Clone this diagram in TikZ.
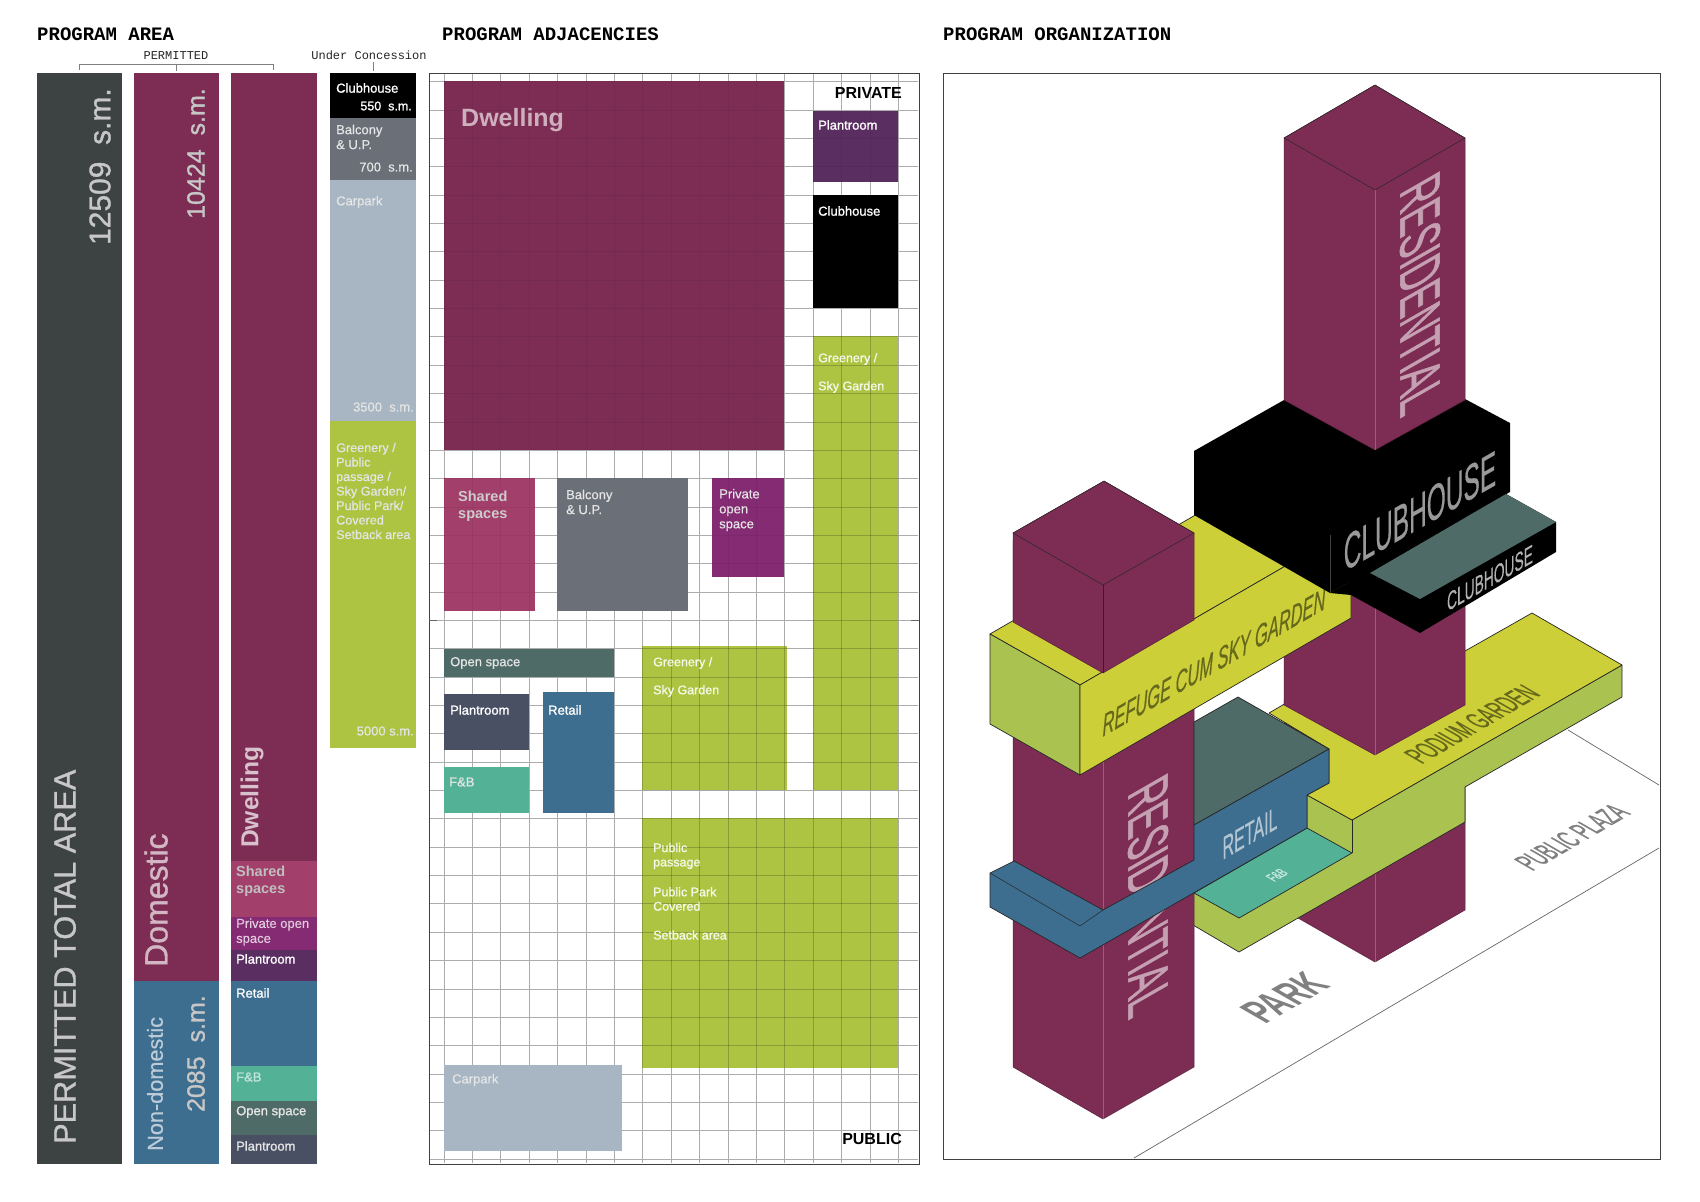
\documentclass[tikz,border=0pt]{standalone}
\usepackage{fontspec}
\setmainfont{Liberation Sans}
\newfontfamily\typefont{Liberation Mono}
\newfontfamily\heavyfont[FakeBold=0.5]{Liberation Sans}
\newfontfamily\strongfont[FakeBold=1.1]{Liberation Sans}
\newfontfamily\strongslant[FakeBold=0.6]{Liberation Sans Italic}
\usepackage{xcolor}
\definecolor{areagray}{RGB}{61, 66, 67}
\definecolor{dwellred}{RGB}{125, 45, 84}
\definecolor{sharedrose}{RGB}{163, 63, 107}
\definecolor{openpurple}{RGB}{133, 43, 115}
\definecolor{plantpurple}{RGB}{91, 46, 98}
\definecolor{retailblue}{RGB}{62, 110, 143}
\definecolor{fnbgreen}{RGB}{83, 178, 150}
\definecolor{opengreen}{RGB}{79, 107, 103}
\definecolor{plantslate}{RGB}{74, 80, 100}
\definecolor{balconygray}{RGB}{106, 111, 120}
\definecolor{carparkblue}{RGB}{168, 182, 195}
\definecolor{greenery}{RGB}{173, 196, 67}
\definecolor{gardenyellow}{RGB}{204, 207, 55}
\definecolor{sidegreen}{RGB}{170, 194, 80}
\definecolor{gridgray}{RGB}{172, 172, 172}
\linespread{1.15}
\newcommand{\pxfont}[1]{\fontsize{#1}{#1}\selectfont}
\newcommand{\residtext}{RESIDENTIAL}
\newcommand{\gridlines}[1]{%
  \foreach \gx in {0,...,16}
    \draw[#1] ({444+\gx*28.4},73) -- ({444+\gx*28.4},1163);
  \foreach \gy in {0,...,38}
    \draw[#1] (430,{81.7+\gy*28.35}) -- (918,{81.7+\gy*28.35});
}

\begin{document}
\begin{tikzpicture}[
    x=1pt, y=-1pt,
    heading/.style={anchor=base west, inner sep=0pt, font=\typefont\bfseries\pxfont{19}, text=black},
    bracketlabel/.style={anchor=base, inner sep=0pt, font=\typefont\pxfont{12}, text=black!85},
    bracketline/.style={draw=gray, line width=1pt},
    barlabel/.style={rotate=90, inner sep=0pt, text=white!78!black},
    tag/.style={anchor=west, inner sep=0pt, align=left, font=\heavyfont\pxfont{13}, text=white!90!black},
    boldtag/.style={tag, font=\strongfont\pxfont{13}, text=white},
    greentag/.style={tag, font=\strongfont\pxfont{12.5}, text=white!88!greenery},
    arealabel/.style={anchor=east, inner sep=0pt, font=\heavyfont\pxfont{13}, text=white!90!black},
    gridline/.style={draw=gridgray, line width=0.8pt},
    gridover/.style={draw=black, draw opacity=0.2, line width=0.8pt},
    gridfaint/.style={draw=black, draw opacity=0.06, line width=0.8pt},
    frameline/.style={draw=black!75, line width=1pt},
    siteline/.style={draw=black!60, line width=0.7pt},
    mass/.style={fill=dwellred, draw=dwellred!70!black, line width=0.5pt, line join=round},
    slab/.style={draw=black!85, line width=0.7pt, line join=round},
    ridge/.style={draw=black!55, line width=0.6pt},
    facetext/.style={transform shape, inner sep=0pt, text=black!50}
  ]
  \useasboundingbox (0,0) rectangle (1700,1202);
  \fill[white] (0,0) rectangle (1700,1202);

  % titles
  \node[heading] (areatitle) at (37,40) {PROGRAM AREA};
  \node[heading] (adjtitle) at (442,40) {PROGRAM ADJACENCIES};
  \node[heading] (orgtitle) at (943,40) {PROGRAM ORGANIZATION};
  \node[bracketlabel] (permitted) at (176,59) {PERMITTED};
  \node[bracketlabel] (concession) at (369,59) {Under Concession};
  \draw[bracketline] (79,70) -- (79,64) -- (273,64) -- (273,70);
  \draw[bracketline] (176,64) -- (176,71);
  \draw[bracketline] (373,62) -- (373,71);

  % area bars
  \fill[areagray] (37,73) rectangle (122,1164);
  \fill[dwellred] (134,73) rectangle (219,981);
  \fill[retailblue] (134,981) rectangle (219,1164);
  \fill[dwellred] (231,73) rectangle (317,861);
  \fill[sharedrose] (231,861) rectangle (317,917);
  \fill[openpurple] (231,917) rectangle (317,950);
  \fill[plantpurple] (231,950) rectangle (317,981);
  \fill[retailblue] (231,981) rectangle (317,1066);
  \fill[fnbgreen] (231,1066) rectangle (317,1101);
  \fill[opengreen] (231,1101) rectangle (317,1135);
  \fill[plantslate] (231,1135) rectangle (317,1164);
  \fill[black] (330,73) rectangle (416,118);
  \fill[balconygray] (330,118) rectangle (416,180);
  \fill[carparkblue] (330,180) rectangle (416,421);
  \fill[greenery] (330,421) rectangle (416,748);

  \node[barlabel, anchor=east, font=\strongfont\pxfont{30}] (totalsm) at (100,88) {12509\ \ s.m.};
  \node[barlabel, anchor=west, font=\strongfont\pxfont{30.7}] (totalarea) at (65,1144) {PERMITTED TOTAL AREA};
  \node[barlabel, anchor=east, font=\strongfont\pxfont{25}] (domsm) at (196,88) {10424\ \ s.m.};
  \node[barlabel, anchor=west, font=\strongfont\pxfont{32}, text=white!65!dwellred] (domestic) at (156,967) {Domestic};
  \node[barlabel, anchor=west, font=\heavyfont\pxfont{21.7}, text=white!65!retailblue] (nondom) at (155,1151) {Non-domestic};
  \node[barlabel, anchor=east, font=\strongfont\pxfont{25}] (nondomsm) at (196,995) {2085\ \ s.m.};
  \node[barlabel, anchor=west, font=\bfseries\pxfont{24.6}, text=white!70!dwellred] (dwellbar) at (252,848) {Dwelling};
  \node[tag, font=\bfseries\pxfont{14.5}, text=white!75!black] (sharedbar) at (236,881) {Shared\\spaces};
  \node[tag, text=white!75!openpurple] (openbar) at (236,932) {Private open\\space};
  \node[boldtag] (plantbar) at (236,959) {Plantroom};
  \node[boldtag] (retailbar) at (236,993) {Retail};
  \node[boldtag, text=white!65!fnbgreen] (fnbbar) at (236,1077) {F\&B};
  \node[boldtag, text=white!90!black] (openspbar) at (236,1112) {Open space};
  \node[boldtag, text=white!90!black] (plantbarb) at (236,1146) {Plantroom};

  \node[boldtag] (clubbar) at (336,88) {Clubhouse};
  \node[arealabel, font=\strongfont\pxfont{12.5}, text=white] (clubsm) at (412,106) {550\ \ s.m.};
  \node[tag] (balcbar) at (336,137) {Balcony\\\& U.P.};
  \node[arealabel] (balcsm) at (413,167) {700\ \ s.m.};
  \node[tag] (carbar) at (336,202) {Carpark};
  \node[arealabel] (carsm) at (414,407) {3500\ \ s.m.};
  \node[tag, font=\heavyfont\pxfont{12.6}] (greenbar) at (336,491) {Greenery /\\Public\\passage /\\Sky Garden/\\Public Park/\\Covered\\Setback area};
  \node[arealabel] (greensm) at (414,731) {5000 s.m.};

  % adjacency grid and blocks
  \gridlines{gridline}
  \fill[dwellred] (444,81) rectangle (784,450);
  \fill[sharedrose] (444,478) rectangle (535,611);
  \fill[balconygray] (557,478) rectangle (688,611);
  \fill[openpurple] (712,478) rectangle (784,577);
  \fill[opengreen] (444,649) rectangle (614,677);
  \fill[plantslate] (444,694) rectangle (529,750);
  \fill[retailblue] (543,692) rectangle (614,813);
  \fill[fnbgreen] (444,767) rectangle (529,813);
  \fill[greenery] (642,646) rectangle (787,790);
  \fill[greenery] (813,336) rectangle (898,790);
  \fill[greenery] (642,818) rectangle (898,1068);
  \fill[carparkblue] (444,1065) rectangle (622,1151);
  \fill[plantpurple] (813,111) rectangle (898,182);
  \fill[black] (813,195) rectangle (898,308);
  \begin{scope}
    \clip (642,646) rectangle (787,790) (813,336) rectangle (898,790) (642,818) rectangle (898,1068);
    \gridlines{gridover}
  \end{scope}
  \begin{scope}
    \clip (444,81) rectangle (784,450) (444,478) rectangle (535,611) (712,478) rectangle (784,577) (813,111) rectangle (898,182);
    \gridlines{gridfaint}
  \end{scope}
  \draw[frameline] (429,73) rectangle (919,1164);
  \draw[draw=black!60, line width=1pt] (429,620) -- (437,620);
  \draw[draw=black!60, line width=1pt] (911,620) -- (919,620);

  \node[tag, font=\bfseries\pxfont{25}, text=white!62!dwellred] (dwelladj) at (461,120) {Dwelling};
  \node[tag, font=\bfseries\pxfont{14.5}, text=white!80!black] (sharedadj) at (458,506) {Shared\\spaces};
  \node[tag] (balcadj) at (566,502) {Balcony\\\& U.P.};
  \node[tag] (openadj) at (719,510) {Private\\open\\space};
  \node[tag] (openspadj) at (450,663) {Open space};
  \node[boldtag] (plantadj) at (450,710) {Plantroom};
  \node[boldtag] (retailadj) at (548,710) {Retail};
  \node[tag] (fnbadj) at (449,782) {F\&B};
  \node[greentag] (greenadj) at (653,663) {Greenery /};
  \node[greentag] (skyadj) at (653,691) {Sky Garden};
  \node[greentag] (greenrt) at (818,359) {Greenery /};
  \node[greentag] (skyrt) at (818,387) {Sky Garden};
  \node[greentag] (pubpass) at (653,856) {Public\\passage};
  \node[greentag] (pubpark) at (653,899) {Public Park\\Covered};
  \node[greentag] (setback) at (653,935) {Setback area};
  \node[tag] (caradj) at (452,1080) {Carpark};
  \node[boldtag] (plantrt) at (818,125) {Plantroom};
  \node[boldtag] (clubrt) at (818,211) {Clubhouse};
  \node[anchor=east, inner sep=0pt, font=\bfseries\pxfont{16}] (privatelbl) at (902,93) {PRIVATE};
  \node[anchor=east, inner sep=0pt, font=\bfseries\pxfont{16}] (publiclbl) at (902,1139) {PUBLIC};

  % organization massing
  \draw[frameline] (943,73) rectangle (1660,1159);
  \draw[siteline] (1134,1158) -- (1659,848);
  \draw[siteline] (1568,730) -- (1659,785);

  \draw[mass] (1284,700) -- (1465,700) -- (1465,910) -- (1375,962) -- (1284,910) -- cycle;
  \draw[ridge] (1375,700) -- (1375,962);

  \draw[slab, fill=sidegreen] (1307,795) -- (1352,820) -- (1622,665) -- (1622,697) -- (1465,787) -- (1465,822)
    -- (1239,952) -- (1193,925) -- (1193,880) -- (1307,828) -- cycle;
  \draw[slab, fill=gardenyellow] (1269,713) -- (1329,678) -- (1465,651) -- (1532,613) -- (1622,665) -- (1352,820)
    -- (1307,795) -- (1329,783) -- (1329,749) -- cycle;
  \draw[slab] (1352,820) -- (1352,853);
  \draw[slab, fill=fnbgreen] (1194,893) -- (1307,828) -- (1352,853) -- (1239,918) -- cycle;
  \draw[mass] (1284,400) -- (1465,400) -- (1465,705) -- (1375,755) -- (1284,705) -- cycle;
  \draw[ridge] (1375,450) -- (1375,755);
  \node[facetext, cm={0.5,0.29,-1,0.575,(0,0)}, font=\heavyfont\pxfont{28}, text=black!50!gardenyellow] (podiumlbl) at (1472,724) {PODIUM GARDEN};
  \node[facetext, cm={0.5,0.29,-1,0.575,(0,0)}, font=\strongfont\pxfont{28}] (plazalbl) at (1572,837) {PUBLIC PLAZA};
  \node[facetext, cm={0.6,0.345,-1,0.575,(0,0)}, font=\bfseries\pxfont{40}] (parklbl) at (1285,998) {PARK};
  \node[facetext, cm={0.5,0.29,-0.9,0.52,(0,0)}, font=\strongfont\pxfont{15}, text=white!70!fnbgreen] (fnblbl) at (1277,875) {F\&B};

  \draw[mass] (1013,540) -- (1194,540) -- (1194,1067) -- (1103,1119) -- (1013,1067) -- cycle;
  \draw[ridge] (1103,673) -- (1103,1119);
  \node[facetext, cm={0,-0.61,1,0.575,(0,0)}, font=\strongfont\pxfont{57}, text=white!55!dwellred] (residfront) at (1148,896) {\residtext};

  % retail and its band
  \draw[slab, fill=opengreen] (1194,722) -- (1238,697) -- (1329,749) -- (1194,825) -- cycle;
  \draw[slab, fill=retailblue] (990,873) -- (1014,861) -- (1103,910) -- (1194,860) -- (1194,825) -- (1329,749)
    -- (1329,783) -- (1307,795) -- (1307,828) -- (1080,958) -- (990,907) -- cycle;
  \draw[slab, line width=0.5pt] (990,873) -- (1080,926) -- (1103,910);
  \node[facetext, cm={0.5,0.29,0,1,(0,0)}, font=\heavyfont\pxfont{32}, text=white!60!retailblue] (retaillbl) at (1250,833) {RETAIL};

  % refuge slab
  \draw[slab, fill=gardenyellow] (990,634) -- (1080,685) -- (1351,528) -- (1261,477) -- cycle;
  \draw[slab, fill=sidegreen] (990,634) -- (1080,685) -- (1080,775) -- (990,724) -- cycle;
  \draw[slab, fill=gardenyellow] (1080,685) -- (1351,528) -- (1351,618) -- (1080,775) -- cycle;
  \node[facetext, cm={0.53,0.305,0,1,(0,0)}, font=\strongslant\pxfont{31}, text=black!50!gardenyellow] (refugelbl) at (1214,662) {REFUGE CUM SKY GARDEN};

  % front tower top
  \draw[mass] (1104,481) -- (1194,533) -- (1194,620) -- (1103,673) -- (1013,622) -- (1013,533) -- cycle;
  \draw[slab, line width=0.5pt] (1013,533) -- (1104,481) -- (1194,533) -- (1103,585) -- cycle;
  \draw[slab, line width=0.5pt] (1103,585) -- (1103,673);

  % clubhouse
  \fill[black] (1194,451) -- (1284,400) -- (1465,399) -- (1510,423) -- (1510,492) -- (1330,593) -- (1194,515) -- cycle;
  \fill[black] (1351,581) -- (1506,494) -- (1556,522) -- (1556,552) -- (1420,633) -- (1351,595) -- (1330,593) -- cycle;
  \fill[opengreen] (1370,573) -- (1506,494) -- (1556,522) -- (1420,599) -- cycle;
  \draw[draw=black!75, line width=0.6pt] (1330,535) -- (1330,593);
  \node[facetext, cm={0.49,0.28,0,1,(0,0)}, font=\heavyfont\pxfont{50}, text=black!40] (clublbl) at (1420,511) {CLUBHOUSE};
  \node[facetext, cm={0.53,0.305,0,1,(0,0)}, font=\heavyfont\pxfont{26}, text=black!30] (clublbb) at (1490,578) {CLUBHOUSE};

  % back tower top
  \draw[mass] (1375,85) -- (1465,138) -- (1465,400) -- (1375,450) -- (1284,400) -- (1284,138) -- cycle;
  \draw[slab, line width=0.5pt] (1284,138) -- (1375,85) -- (1465,138) -- (1375,190) -- cycle;
  \draw[ridge] (1375,190) -- (1375,450);
  \node[facetext, cm={0,-0.61,1,0.575,(0,0)}, font=\strongfont\pxfont{57}, text=white!55!dwellred] (residback) at (1420,294) {\residtext};
\end{tikzpicture}
\end{document}
